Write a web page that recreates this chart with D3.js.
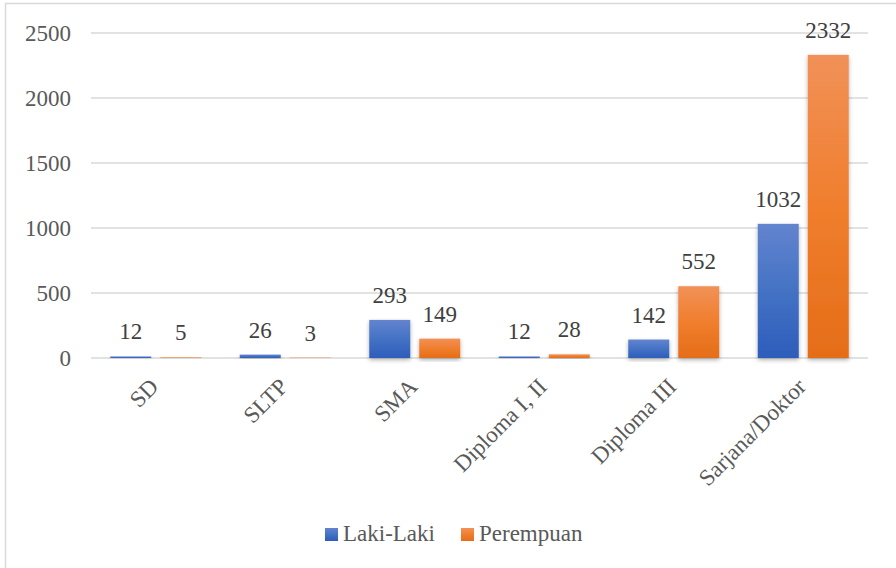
<!DOCTYPE html>
<html>
<head>
<meta charset="utf-8">
<script src="https://cdn.jsdelivr.net/npm/d3@7.9.0/dist/d3.min.js"></script>
<style>
  html, body { margin: 0; padding: 0; background: #fff; }
</style>
</head>
<body>
<svg id="chart" width="896" height="568" font-family="'Liberation Serif', 'Tinos', 'Times New Roman', 'DejaVu Serif', serif"></svg>
<script>
// Chart data
const categories = ['SD', 'SLTP', 'SMA', 'Diploma I, II', 'Diploma III', 'Sarjana/Doktor'];
const series = ['Laki-Laki', 'Perempuan'];
const lakiLaki = [12, 26, 293, 12, 142, 1032];
const perempuan = [5, 3, 149, 28, 552, 2332];
const yTicks = [0, 500, 1000, 1500, 2000, 2500];

const values = { 'Laki-Laki': lakiLaki, 'Perempuan': perempuan };

const svg = d3.select('#chart');

// chart border (runs off the right and bottom edges)
svg.append('rect')
  .attr('x', 5.5).attr('y', 3.5)
  .attr('width', 1000).attr('height', 1000)
  .attr('fill', 'none')
  .attr('stroke', '#d9d9d9')
  .attr('stroke-width', 1.5);

// gradients + shadow
const defs = svg.append('defs');
const grads = {
  'Laki-Laki': ['#6384cf', '#4472c4', '#2d5dbb'],
  'Perempuan': ['#f19158', '#f07e2d', '#e56d18']
};
series.forEach((s, i) => {
  const g = defs.append('linearGradient')
    .attr('id', 'grad' + i)
    .attr('x1', 0).attr('y1', 0).attr('x2', 0).attr('y2', 1);
  g.append('stop').attr('offset', '0%').attr('stop-color', grads[s][0]);
  g.append('stop').attr('offset', '50%').attr('stop-color', grads[s][1]);
  g.append('stop').attr('offset', '100%').attr('stop-color', grads[s][2]);
});
const shadow = defs.append('filter').attr('id', 'shadow')
  .attr('x', '-30%').attr('y', '-10%').attr('width', '160%').attr('height', '130%');
shadow.append('feDropShadow')
  .attr('dx', 0).attr('dy', 2).attr('stdDeviation', 2)
  .attr('flood-color', '#000').attr('flood-opacity', 0.3);

// scales
const x0 = d3.scaleBand().domain(categories).range([91, 868]).padding(0);
const x1 = d3.scaleBand().domain(series).range([19.25, 110.25]).paddingInner(0.18);
const y = d3.scaleLinear().domain([0, 2500]).range([358, 33]);

// gridlines
svg.append('g')
  .selectAll('line')
  .data(yTicks)
  .join('line')
  .attr('x1', 91).attr('x2', 868)
  .attr('y1', d => y(d)).attr('y2', d => y(d))
  .attr('stroke', '#d9d9d9')
  .attr('stroke-width', 1.5);

// y axis labels
svg.append('g')
  .selectAll('text')
  .data(yTicks)
  .join('text')
  .attr('x', 71)
  .attr('y', d => y(d))
  .attr('dy', '0.34em')
  .attr('text-anchor', 'end')
  .attr('font-size', 23)
  .attr('fill', '#595959')
  .text(d => d);

// bars
const groups = svg.append('g')
  .selectAll('g')
  .data(categories)
  .join('g')
  .attr('transform', d => `translate(${x0(d)},0)`);

groups.selectAll('rect')
  .data((c, ci) => series.map((s, si) => ({ s, si, v: values[s][ci] })))
  .join('rect')
  .attr('x', d => x1(d.s))
  .attr('width', x1.bandwidth())
  .attr('y', d => y(d.v))
  .attr('height', d => y(0) - y(d.v))
  .attr('fill', d => `url(#grad${d.si})`)
  .attr('filter', 'url(#shadow)');

// data labels
groups.selectAll('text')
  .data((c, ci) => series.map((s, si) => ({ s, si, v: values[s][ci] })))
  .join('text')
  .attr('x', d => x1(d.s) + x1.bandwidth() / 2)
  .attr('y', d => y(d.v) - 17)
  .attr('text-anchor', 'middle')
  .attr('font-size', 23)
  .attr('fill', '#404040')
  .text(d => d.v);

// category labels, rotated
svg.append('g')
  .selectAll('text')
  .data(categories)
  .join('text')
  .attr('transform', d => `translate(${x0(d) + x0.bandwidth() / 2 + 4},388) rotate(-45)`)
  .attr('text-anchor', 'end')
  .attr('font-size', 23)
  .attr('fill', '#595959')
  .text(d => d);

// legend
const legendX = [325, 461];
const legend = svg.append('g')
  .selectAll('g')
  .data(series)
  .join('g')
  .attr('transform', (d, i) => `translate(${legendX[i]},528)`);
legend.append('rect')
  .attr('width', 13).attr('height', 13)
  .attr('fill', (d, i) => `url(#grad${i})`);
legend.append('text')
  .attr('x', 18).attr('y', 12.5)
  .attr('font-size', 23)
  .attr('fill', '#595959')
  .text(d => d);
</script>
</body>
</html>
